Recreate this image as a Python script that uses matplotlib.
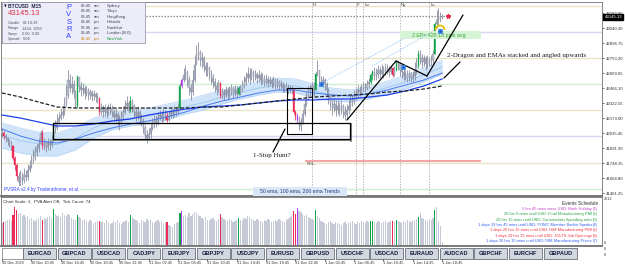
import matplotlib
matplotlib.use("Agg")
import matplotlib.pyplot as plt
from matplotlib.patches import Rectangle, Arc
from matplotlib.transforms import blended_transform_factory
import numpy as np

plt.rcParams['font.family'] = ['Liberation Sans', 'DejaVu Sans']

# ---------------- data ----------------
symbol = "BTCUSD"
timeframe = "M15"
last_price_text = "43145.13"

first_open = 42055
highs = [42084, 42055, 42026, 41998, 41978, 41959, 41921, 41816, 41749, 41663,
         41682, 41663, 41701, 41682, 41739, 41777, 41825, 41883, 41911, 41931,
         41988, 42065, 42065, 41988, 41969, 41988, 41978, 42017, 42141, 42160,
         42218, 42237, 42275, 42294, 42380, 42495, 42639, 42600, 42581, 42543,
         42447, 42591, 42562, 42524, 42514, 42495, 42486, 42466, 42457, 42447,
         42447, 42428, 42419, 42371, 42323, 42304, 42313, 42294, 42313, 42323,
         42304, 42265, 42275, 42237, 42208, 42246, 42294, 42352, 42390, 42352,
         42390, 42361, 42313, 42275, 42294, 42256, 42218, 42179, 42112, 42065,
         42084, 42141, 42179, 42208, 42198, 42237, 42256, 42246, 42265, 42256,
         42237, 42246, 42275, 42265, 42294, 42285, 42313, 42514, 42562, 42658,
         42687, 42639, 42581, 42505, 42639, 42782, 42878, 42907, 42830, 42811,
         42773, 42715, 42715, 42677, 42639, 42600, 42562, 42524, 42543, 42524,
         42466, 42457, 42486, 42476, 42486, 42505, 42486, 42495, 42486, 42486,
         42495, 42543, 42581, 42620, 42667, 42658, 42658, 42639, 42639, 42620,
         42639, 42620, 42610, 42591, 42600, 42581, 42581, 42562, 42581, 42562,
         42562, 42543, 42543, 42524, 42505, 42524, 42505, 42495, 42486, 42466,
         42256, 42227, 42198, 42179, 42256, 42352, 42428, 42486, 42505, 42524,
         42524, 42620, 42734, 42639, 42581, 42581, 42562, 42524, 42466, 42390,
         42352, 42371, 42352, 42352, 42332, 42352, 42313, 42294, 42313, 42352,
         42390, 42409, 42447, 42466, 42495, 42486, 42505, 42524, 42514, 42543,
         42562, 42610, 42639, 42667, 42658, 42687, 42677, 42696, 42677, 42706,
         42696, 42677, 42687, 42667, 42677, 42734, 42734, 42696, 42677, 42658,
         42639, 42639, 42639, 42620, 42629, 42715, 42754, 42830, 42830, 42792,
         42782, 42773, 42782, 42763, 42782, 42830, 43098, 43213, 43232, 43194,
         43175]
lows = [41998, 41978, 41950, 41921, 41902, 41873, 41777, 41682, 41586, 41529,
        41529, 41538, 41557, 41576, 41586, 41663, 41701, 41749, 41777, 41816,
        41854, 41950, 41883, 41873, 41854, 41873, 41873, 41902, 41959, 42036,
        42065, 42122, 42160, 42179, 42208, 42294, 42371, 42428, 42409, 42371,
        42275, 42275, 42428, 42390, 42399, 42361, 42390, 42352, 42361, 42342,
        42352, 42332, 42323, 42208, 42208, 42189, 42198, 42179, 42208, 42218,
        42189, 42151, 42141, 42112, 42065, 42122, 42160, 42218, 42256, 42227,
        42237, 42237, 42179, 42151, 42160, 42122, 42103, 42036, 41969, 41940,
        41969, 41988, 42065, 42084, 42093, 42112, 42160, 42141, 42151, 42160,
        42141, 42151, 42179, 42179, 42198, 42198, 42218, 42265, 42466, 42524,
        42543, 42486, 42399, 42352, 42399, 42524, 42715, 42734, 42677, 42658,
        42620, 42581, 42581, 42543, 42505, 42466, 42428, 42399, 42428, 42371,
        42361, 42352, 42380, 42361, 42371, 42399, 42371, 42390, 42371, 42399,
        42399, 42428, 42466, 42495, 42524, 42505, 42543, 42524, 42543, 42514,
        42524, 42495, 42505, 42486, 42495, 42476, 42486, 42466, 42476, 42457,
        42466, 42447, 42457, 42428, 42428, 42438, 42409, 42419, 42409, 42218,
        42160, 42131, 42065, 42055, 42122, 42198, 42294, 42352, 42390, 42409,
        42390, 42447, 42581, 42524, 42486, 42476, 42447, 42390, 42313, 42256,
        42208, 42237, 42198, 42218, 42198, 42218, 42179, 42160, 42179, 42218,
        42256, 42294, 42313, 42352, 42371, 42390, 42409, 42428, 42428, 42447,
        42466, 42505, 42543, 42543, 42543, 42562, 42562, 42581, 42562, 42591,
        42600, 42572, 42600, 42572, 42581, 42629, 42639, 42581, 42562, 42543,
        42543, 42524, 42533, 42524, 42524, 42543, 42600, 42658, 42696, 42658,
        42677, 42639, 42658, 42677, 42677, 42696, 42792, 43041, 43069, 43098,
        43127]
closes = [42036, 42007, 41988, 41959, 41940, 41911, 41797, 41730, 41624, 41567,
          41605, 41586, 41634, 41615, 41682, 41720, 41768, 41816, 41854, 41892,
          41931, 42036, 41911, 41940, 41902, 41950, 41921, 41969, 42112, 42084,
          42141, 42179, 42208, 42237, 42313, 42399, 42543, 42466, 42505, 42428,
          42294, 42572, 42486, 42447, 42466, 42419, 42447, 42399, 42428, 42390,
          42409, 42380, 42371, 42237, 42275, 42237, 42275, 42227, 42256, 42275,
          42237, 42189, 42218, 42160, 42141, 42198, 42237, 42294, 42323, 42246,
          42342, 42294, 42237, 42198, 42237, 42179, 42141, 42084, 42017, 41988,
          42026, 42084, 42122, 42160, 42141, 42189, 42208, 42179, 42218, 42198,
          42160, 42198, 42237, 42218, 42256, 42237, 42275, 42486, 42543, 42591,
          42620, 42543, 42466, 42428, 42543, 42687, 42782, 42811, 42734, 42754,
          42677, 42639, 42658, 42600, 42562, 42524, 42486, 42447, 42514, 42390,
          42428, 42399, 42447, 42409, 42428, 42466, 42419, 42447, 42409, 42466,
          42447, 42495, 42524, 42562, 42600, 42562, 42620, 42581, 42600, 42562,
          42591, 42543, 42562, 42524, 42553, 42514, 42543, 42505, 42543, 42495,
          42524, 42486, 42505, 42466, 42486, 42466, 42447, 42466, 42447, 42237,
          42198, 42160, 42103, 42141, 42218, 42313, 42390, 42447, 42466, 42486,
          42447, 42600, 42639, 42562, 42524, 42543, 42505, 42447, 42371, 42313,
          42275, 42313, 42256, 42294, 42256, 42294, 42237, 42208, 42256, 42294,
          42332, 42352, 42390, 42409, 42447, 42428, 42466, 42486, 42466, 42505,
          42524, 42591, 42620, 42581, 42600, 42639, 42600, 42639, 42620, 42658,
          42639, 42620, 42658, 42591, 42639, 42715, 42696, 42639, 42620, 42581,
          42600, 42562, 42600, 42562, 42581, 42620, 42677, 42792, 42754, 42715,
          42754, 42696, 42734, 42715, 42734, 42792, 43079, 43117, 43136, 43156,
          43145.13]
red_bars = [1, 6, 7, 8, 22, 53, 90, 119, 159, 160, 213]
green_bars = [28, 41, 70, 97, 129, 171, 201, 202, 215, 227, 236]
purple_bars = [98, 161]
volumes = [230, 240, 250, 260, 270, 250, 310, 390, 360, 320,
           330, 300, 310, 290, 300, 270, 280, 260, 250, 270,
           280, 300, 260, 280, 270, 290, 300, 280, 370, 320,
           300, 310, 290, 330, 310, 300, 320, 310, 280, 270,
           260, 310, 290, 280, 260, 270, 250, 240, 260, 250,
           230, 240, 250, 250, 240, 250, 230, 260, 240, 220,
           230, 250, 240, 260, 230, 220, 240, 250, 260, 240,
           310, 290, 270, 260, 250, 230, 260, 250, 240, 270,
           250, 260, 240, 230, 250, 260, 240, 250, 230, 240,
           240, 210, 200, 190, 220, 230, 240, 330, 350, 300,
           310, 290, 330, 300, 320, 340, 330, 310, 300, 280,
           270, 290, 260, 250, 270, 280, 260, 250, 270, 320,
           290, 270, 260, 250, 270, 260, 240, 250, 260, 280,
           260, 250, 280, 270, 300, 290, 270, 260, 250, 270,
           260, 250, 240, 260, 250, 270, 260, 240, 250, 260,
           250, 270, 260, 250, 240, 260, 270, 290, 300, 350,
           320, 380, 350, 340, 320, 300, 310, 290, 280, 270,
           260, 360, 300, 280, 250, 240, 230, 220, 240, 250,
           230, 220, 240, 230, 220, 210, 230, 240, 220, 230,
           240, 250, 230, 220, 240, 230, 250, 240, 230, 250,
           240, 250, 250, 240, 230, 250, 240, 230, 240, 250,
           230, 240, 250, 250, 240, 260, 250, 240, 230, 250,
           240, 260, 250, 240, 260, 250, 270, 290, 330, 280,
           270, 260, 250, 270, 260, 280, 360, 390, 250, 200,
           40]

ema_bars = [0, 10, 20, 30, 40, 50, 60, 70, 80, 90, 100, 110, 120,
            130, 140, 150, 160, 170, 180, 190, 200, 210, 220, 230, 240]
dragon_upper = [42131, 42084, 42045, 42036, 42093, 42179, 42237, 42256, 42275, 42313, 42352, 42399, 42447,
                42486, 42533, 42562, 42553, 42505, 42466, 42447, 42476, 42533, 42591, 42658, 42734]
dragon_lower = [41892, 41844, 41816, 41816, 41873, 41988, 42065, 42103, 42122, 42160, 42218, 42256, 42313,
                42361, 42399, 42428, 42419, 42371, 42342, 42332, 42361, 42409, 42457, 42524, 42600]
dragon_mid = [42012, 41964, 41931, 41926, 41983, 42084, 42151, 42179, 42198, 42237, 42285, 42328, 42380,
              42423, 42466, 42495, 42486, 42438, 42404, 42390, 42419, 42471, 42524, 42591, 42667]
ema50 = [42074, 42007, 41959, 41940, 41978, 42036, 42084, 42122, 42151, 42189, 42237, 42294, 42342,
         42380, 42419, 42447, 42447, 42419, 42399, 42390, 42409, 42447, 42495, 42543, 42610]
ema100 = [42208, 42179, 42141, 42103, 42103, 42122, 42151, 42170, 42208, 42237, 42265, 42285, 42294,
          42304, 42323, 42342, 42352, 42352, 42361, 42361, 42380, 42399, 42438, 42486, 42553]
ema200 = [42419, 42380, 42332, 42285, 42275, 42275, 42275, 42275, 42275, 42275, 42275, 42285, 42285,
          42304, 42323, 42342, 42361, 42380, 42390, 42399, 42409, 42428, 42438, 42457, 42486]

level_prices = [43251, 43002, 42753, 42505, 42256, 42007, 41749, 41500]
level_kinds = ['tan', 'lav', 'tan', 'grn', 'tan', 'lav', 'tan', 'grn']
day_high_price = 43155
day_high_bars = (77, 243)
rdl_price = 41768
rdl_bars = (165, 261)
session_names = ['H', 'F', 'Lo', 'Ny', 'Lc']
session_bars = [169, 193, 197, 217, 233]

price_ticks = [41461.25, 41604.80, 41748.35, 41891.90, 42035.45, 42179.00, 42322.55,
               42466.10, 42609.65, 42753.20, 42896.75, 43040.30, 43183.85]
time_labels = ["30 Dec 2023", "30 Dec 10:45", "30 Dec 14:45", "30 Dec 18:45", "30 Dec 22:45",
               "31 Dec 02:45", "31 Dec 06:45", "31 Dec 10:45", "31 Dec 14:45", "31 Dec 18:45",
               "31 Dec 22:45", "1 Jan 02:45", "1 Jan 06:45", "1 Jan 10:45", "1 Jan 14:45", "1 Jan 18:45"]
time_label_bars = [0, 16, 32, 48, 64, 80, 96, 112, 128, 144, 160, 176, 192, 208, 224, 240]

buttons = ['EURCAD', 'GBPCAD', 'USDCAD', 'CADJPY', 'EURJPY', 'GBPJPY', 'USDJPY', 'EURUSD',
           'GBPUSD', 'USDCHF', 'USDCAD', 'EURAUD', 'AUDCAD', 'GBPCHF', 'EURCHF', 'GBPAUD']
event_texts = ["5 hrs 45 mins since USD: Bank Holiday",
               "20 hrs 0 mins until USD: Final Manufacturing PMI",
               "20 hrs 15 mins until USD: Construction Spending m/m",
               "1 days 19 hrs 45 mins until USD: FOMC Member Barkin Speaks",
               "1 days 20 hrs 15 mins until USD: ISM Manufacturing PMI",
               "1 days 20 hrs 15 mins until USD: JOLTS Job Openings",
               "1 days 20 hrs 15 mins until USD: ISM Manufacturing Prices"]
event_kinds = ['past', 'low', 'low', 'info', 'high', 'high', 'info']
clock_times = ["05:45", "03:45", "02:45", "08:45", "07:45", "06:45", "01:45"]
clock_ampm = ["am", "am", "am", "pm", "pm", "pm", "pm"]
clock_cities = ["Sydney", "Tokyo", "HongKong", "Helsinki", "Frankfurt", "London (B.0)", "NewYork"]
info_rows = [("Candle", "00:14:19"), ("Range", "1434, 1050"), ("Swap", "0.00, 0.00"), ("Spread", "6.66")]

# ---------------- layout ----------------
W, H = 625, 268
fig = plt.figure(figsize=(W / 100, H / 100), dpi=100)
fig.patch.set_facecolor('white')


def px_axes(l, t, r, b, z):
    return fig.add_axes([l / W, 1 - b / H, (r - l) / W, (b - t) / H], zorder=z)


X0, DX = 2.0, 1.834          # pixel of bar 0, pixels per bar
PY0, DPY = 43308.6, 9.57     # price at pixel row 0, price per pixel
L, R = 1, 602
MT, MB = 2, 196
VT, VB = 197, 246
xlim = ((L - X0) / DX, (R - X0) / DX)

ax = px_axes(L, MT, R, MB, 1)
ax.set_xlim(*xlim)
ax.set_ylim(PY0 - MB * DPY, PY0 - MT * DPY)
ax.set_facecolor('white')

av = px_axes(L, VT, R, VB, 1)
av.set_xlim(*xlim)
av.set_ylim(0, 490)
av.set_facecolor('white')

ov = px_axes(0, 0, W, H, 5)
ov.set_xlim(0, W)
ov.set_ylim(H, 0)
ov.axis('off')
tf = blended_transform_factory(ax.transData, ov.transData)

# colours
RED, GREEN, PURPLE = '#ee2b55', '#12a24a', '#b23cf0'
NB, NW = '#bcc0ce', '#80859a'
n = len(closes)
bars = np.arange(n)
opens = np.array([first_open] + closes[:-1], float)
cl = np.array(closes, float)
body_c = [NB] * n
wick_c = [NW] * n
vol_c = ['#c6cad6'] * n
for group, col in ((red_bars, RED), (green_bars, GREEN), (purple_bars, PURPLE)):
    for b in group:
        body_c[b] = wick_c[b] = vol_c[b] = col

# levels
lvl_col = {'tan': '#ebe3c6', 'lav': '#d6d6f6', 'grn': '#cdeecd'}
for p, k in zip(level_prices, level_kinds):
    ax.axhline(p, color=lvl_col[k], lw=1.0, zorder=0.5)

# sessions
for nm, b in zip(session_names, session_bars):
    ax.axvline(b, color='#a0a0a0', lw=0.5, ls=(0, (2, 2)), zorder=0.6)
    ov.text(b + 0.6, 5, nm, transform=tf, fontsize=3.2, color='#404040', ha='left', va='center')

# dragon + emas
ax.fill_between(ema_bars, dragon_lower, dragon_upper, color='#cfe3f9', lw=0, zorder=1)
ax.plot(ema_bars, dragon_upper, color='#b6d4f5', lw=0.5, zorder=1.1)
ax.plot(ema_bars, dragon_lower, color='#b6d4f5', lw=0.5, zorder=1.1)
ax.plot(ema_bars, dragon_mid, color='#94c0f0', lw=0.5, zorder=1.2)
ax.plot(ema_bars, ema50, color='#4a7af0', lw=0.7, zorder=6)
ax.plot(ema_bars, ema100, color='#2040e8', lw=0.9, zorder=6)
ax.plot(ema_bars, ema200, color='#202020', lw=0.9, ls=(0, (3, 1.5)), zorder=6)

# candles
ax.vlines(bars, lows, highs, colors=wick_c, lw=0.55, zorder=4)
bottom = np.minimum(opens, cl)
height = np.maximum(np.abs(cl - opens), 8)
ax.bar(bars, height, bottom=bottom, width=0.62, color=body_c, edgecolor=wick_c, linewidth=0.25, zorder=5)

# special lines
ax.hlines(day_high_price, *day_high_bars, color='#8c8c8c', lw=0.9, ls=(0, (1.2, 1.2)), zorder=6)
ax.hlines(rdl_price, *rdl_bars, color='#f4a6a6', lw=1.5, zorder=2)
ax.text(rdl_bars[0] + 1, rdl_price - 12, "RDL-", fontsize=2.8, color='#404040', ha='left', va='top', zorder=7)

# axes styling
ax.set_xticks([])
ax.yaxis.tick_right()
ax.set_yticks(price_ticks)
ax.set_yticklabels([f"{p:.2f}" for p in price_ticks], fontsize=3.1)
ax.tick_params(axis='y', length=1.5, width=0.5, pad=1.5, colors='#303030')
for s in ax.spines.values():
    s.set_color('#707070')
    s.set_linewidth(0.6)
ax.spines['bottom'].set_linewidth(1.3)
ax.spines['bottom'].set_color('#6a6a6a')
ax.text(1.004, cl[-1], last_price_text, transform=blended_transform_factory(ax.transAxes, ax.transData),
        fontsize=3.1, color='white', ha='left', va='center', zorder=20,
        bbox=dict(boxstyle='square,pad=0.25', fc='black', ec='black'))

av.bar(bars, volumes, width=0.68, color=vol_c, lw=0, zorder=2)
av.set_xticks([])
av.set_yticks([])
for s in av.spines.values():
    s.set_color('#707070')
    s.set_linewidth(0.6)
av.spines['bottom'].set_linewidth(1.3)

# right-side labels of volume panel
ov.text(604, 199, "2012", fontsize=2.8, color='#303030', ha='left', va='center')
for yy in (243, 249, 255):
    ov.text(604, yy, "0", fontsize=2.8, color='#303030', ha='left', va='center')

# ---------------- info panel ----------------
ov.add_patch(Rectangle((1.5, 1.5), 143, 41.5, fc='#ecedf8', ec='#9a9aaa', lw=0.6, zorder=10))
ov.text(3.5, 6, "\u25BC", fontsize=2.6, color='#202040', va='center', ha='left', zorder=11,
        family=['DejaVu Sans'])
ov.text(8.5, 6, f"{symbol}  {timeframe}", fontsize=3.5, weight='bold', color='#202040', va='center', zorder=11)
ov.text(8, 13.5, last_price_text, fontsize=5.6, color='#e0304a', va='center', zorder=11)
for k, (lab, val) in enumerate(info_rows):
    yy = 23 + 5.3 * k
    ov.text(8, yy, lab, fontsize=2.8, color='#555566', va='center', zorder=11)
    ov.text(22.5, yy, val, fontsize=2.8, color='#555566', va='center', zorder=11)
for ch, yy in zip("PVSRA", (7.5, 15, 22.5, 29.5, 36.5)):
    ov.text(69, yy, ch, fontsize=5.5, color='#2a3cff', ha='center', va='center', zorder=11)
for k in range(7):
    yy = 5.7 + 5.5 * k
    tcol = '#c88000' if k == 6 else '#404050'
    ccol = '#20a040' if k == 6 else '#404050'
    ov.text(81, yy, clock_times[k], fontsize=3.0, color=tcol, va='center', zorder=11)
    ov.text(94, yy, clock_ampm[k], fontsize=3.0, color=tcol, va='center', zorder=11)
    ov.text(107, yy, clock_cities[k], fontsize=3.0, color=ccol, va='center', zorder=11)

# ---------------- drawings ----------------
ov.add_patch(Rectangle((53, 123), 297, 16, fill=False, ec='black', lw=0.9, zorder=8))
ov.plot([54, 351], [140, 140], color='#707070', lw=1.2, zorder=7.9)
ov.plot([351, 351], [124, 140.5], color='#707070', lw=1.2, zorder=7.9)
ov.add_patch(Rectangle((287, 88), 25, 46, fill=False, ec='black', lw=0.8, zorder=8))
for (x1, y1, x2, y2) in [(347, 120, 396, 61), (396, 61, 427, 76), (427, 76, 463, 15),
                         (444, 78, 460, 62), (285, 129, 273, 152)]:
    ov.plot([x1, x2], [y1, y2], color='black', lw=0.9, zorder=8, solid_capstyle='round')
for (x1, y1, x2, y2) in [(322, 83, 405, 38), (372, 66, 432, 32)]:
    ov.plot([x1, x2], [y1, y2], color='#8cc0f0', lw=0.6, ls=(0, (1.5, 1.5)), zorder=7)

ov.add_patch(Rectangle((400, 31), 81, 8, fc='#d6f5d6', ec='none', zorder=6))
ov.text(412, 35, "2 EP= 428.18 pips avg", fontsize=3.8, color='#3aa03a', va='center', ha='left', zorder=7)
ov.text(447, 55.5, "2-Dragon and EMAs stacked and angled upwards", fontsize=5.0,
        family=['Liberation Serif', 'DejaVu Serif'], color='#1a1a1a', va='center', ha='left', zorder=9)
ov.text(272, 155, "1-Stop Hunt?", fontsize=5.0, family=['Liberation Serif', 'DejaVu Serif'],
        color='#1a1a1a', va='center', ha='center', zorder=9)

for (mx, my) in [(321, 84), (403, 67), (440, 31)]:
    ov.add_patch(Rectangle((mx - 2.3, my - 2.3), 4.6, 4.6, fc='#8fe0ff', ec='#1e70e0', lw=0.5, zorder=9))
    ov.plot(mx, my, 'o', ms=1.2, color='#1e5ad0', zorder=9.5)
ov.add_patch(Arc((440, 30), 9, 9, theta1=180, theta2=360, color='#e0c000', lw=1.3, zorder=9))
ov.plot(448, 16, marker='*', ms=3.2, color='#e0284a', zorder=9)

# bottom labels
ov.text(3.5, 189.5, "PVSRA v2.4 by Traderathome, et al.", fontsize=3.3, color='#3040ff', va='center',
        ha='left', zorder=9, bbox=dict(boxstyle='square,pad=0.3', fc='white', ec='none'))
ov.add_patch(Rectangle((253, 186.5), 94, 9.3, fc='#dbe6f6', ec='none', zorder=6))
ov.text(300, 191.2, "50 ema, 100 ema, 200 ema Trends", fontsize=3.7, color='#2a3a7a',
        va='center', ha='center', zorder=7)

# volume panel texts
ov.text(3, 201.8, "Chart Scale: 2,  PVA Alert Off,  Tick Count: 74", fontsize=3.2, color='#303030',
        va='center', ha='left', zorder=9)
ov.text(598, 203.5, "Events Schedule", fontsize=3.4, color='#303030', va='center', ha='right', zorder=9)
ev_col = {'past': '#c040c8', 'low': '#22a040', 'info': '#3060f0', 'high': '#f03040'}
for k, (txt, kind) in enumerate(zip(event_texts, event_kinds)):
    yy = 209 + 5.35 * k
    ov.text(592, yy, txt, fontsize=2.9, color=ev_col[kind], va='center', ha='right', zorder=9)
    ov.text(598, yy, f"({k + 1})", fontsize=2.9, color=ev_col[kind], va='center', ha='right', zorder=9)

# buttons
ov.add_patch(Rectangle((1.5, 247.5), 21, 11, fc='white', ec='#8a8a8a', lw=0.6, zorder=8))
for k, lab in enumerate(buttons):
    bx = 23 + 34.73 * k
    ov.add_patch(Rectangle((bx, 247.5), 33, 11, fc='#d3d7e0', ec='#6a6e7a', lw=0.6, zorder=8))
    ov.text(bx + 16.5, 253.2, lab, fontsize=4.1, weight='bold', color='#141c3c', ha='center',
            va='center', zorder=9)

# time axis
for b, lab in zip(time_label_bars, time_labels):
    ov.plot([b, b], [259.2, 260.6], transform=tf, color='#404040', lw=0.5, zorder=9)
    ov.text(b, 263.5, lab, transform=tf, fontsize=2.8, color='#303030', ha='left', va='center', zorder=9)

fig.savefig("out.png", dpi=100, facecolor='white')
